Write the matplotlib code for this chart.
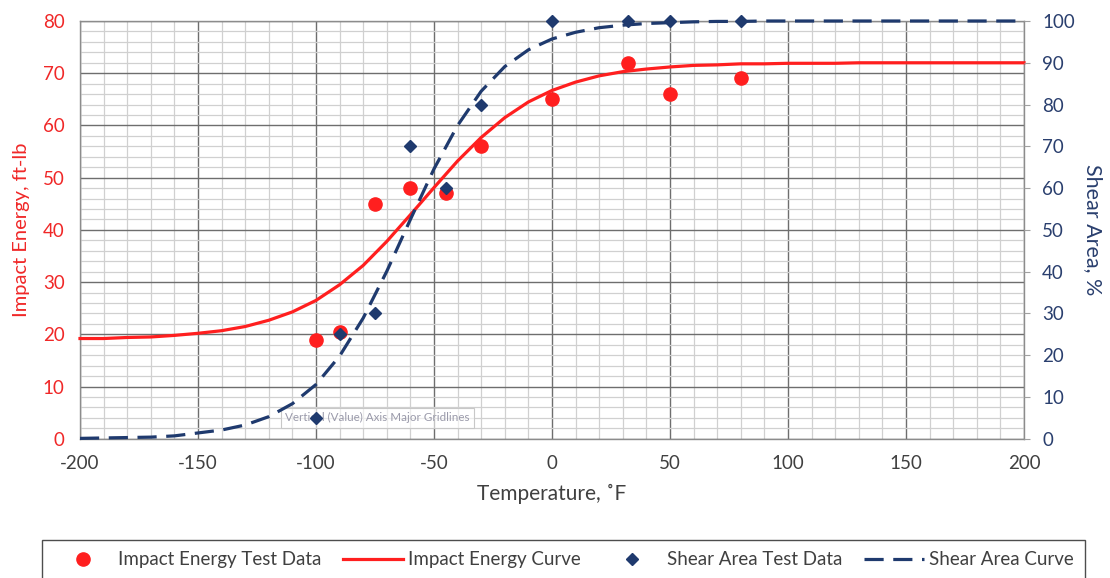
import matplotlib
matplotlib.use("Agg")
import matplotlib.pyplot as plt
from matplotlib.lines import Line2D
from matplotlib.ticker import MultipleLocator

plt.rcParams['font.family'] = ['Lato', 'DejaVu Sans']
plt.rcParams['axes.unicode_minus'] = False

# ---- data ----
test_temps = [-100, -90, -75, -60, -45, -30, 0, 32, 50, 80]
impact_energy = [19, 20.5, 45, 48, 47, 56, 65, 72, 66, 69]
shear_area = [5, 25, 30, 70, 60, 80, 100, 100, 100, 100]

curve_temps = [-200, -190, -180, -170, -160, -150, -140, -130, -120, -110,
               -100, -90, -80, -70, -60, -50, -40, -30, -20, -10,
               0, 10, 20, 30, 40, 50, 60, 70, 80, 90,
               100, 110, 120, 130, 140, 150, 160, 170, 180, 190, 200]
energy_curve = [19.2, 19.2, 19.4, 19.5, 19.8, 20.2, 20.7, 21.5, 22.7, 24.3,
                26.5, 29.5, 33.2, 37.8, 42.9, 48.1, 53.2, 57.7, 61.5, 64.5,
                66.7, 68.3, 69.5, 70.3, 70.8, 71.2, 71.5, 71.6, 71.8, 71.8,
                71.9, 71.9, 71.9, 72.0, 72.0, 72.0, 72.0, 72.0, 72.0, 72.0, 72.0]
shear_curve = [0.1, 0.2, 0.3, 0.4, 0.7, 1.4, 2.1, 3.3, 5.3, 8.4,
               13.0, 19.8, 28.9, 40.1, 52.5, 64.6, 75.0, 83.2, 89.1, 93.1,
               95.7, 97.3, 98.4, 99.0, 99.4, 99.6, 99.8, 99.9, 99.9, 100,
               100, 100, 100, 100, 100, 100, 100, 100, 100, 100, 100]

x_ticks = [-200, -150, -100, -50, 0, 50, 100, 150, 200]
left_ticks = [0, 10, 20, 30, 40, 50, 60, 70, 80]
right_ticks = [0, 10, 20, 30, 40, 50, 60, 70, 80, 90, 100]

RED = '#FF1F1F'
RED_TXT = '#F02828'
NAVY = '#1F3A6E'
NAVY_TXT = '#2A3F6E'
GRAY_TXT = '#404040'

fig = plt.figure(figsize=(11.10, 5.78), dpi=100)
ax = fig.add_axes([80/1110, 1-438.8/578, (1024-80)/1110, (438.8-21)/578])
ax2 = ax.twinx()

ax.set_xlim(-200, 200)
ax.set_ylim(0, 80)
ax2.set_ylim(0, 100)

ax.xaxis.set_major_locator(MultipleLocator(50))
ax.xaxis.set_minor_locator(MultipleLocator(10))
ax.yaxis.set_major_locator(MultipleLocator(10))
ax.yaxis.set_minor_locator(MultipleLocator(2))
ax.set_xticks(x_ticks)
ax.set_yticks(left_ticks)
ax2.set_yticks(right_ticks)

ax.grid(which='minor', color='#D0D0D0', lw=0.9)
ax.grid(which='major', color='#6E6E6E', lw=1.0)
ax.set_axisbelow(True)

for sp in ax.spines.values():
    sp.set_color('#8C8C8C')
    sp.set_linewidth(1.0)
for sp in ax2.spines.values():
    sp.set_visible(False)

ax.tick_params(axis='x', which='both', length=0, pad=12, labelsize=13.5, labelcolor=GRAY_TXT)
ax.tick_params(axis='y', which='both', length=0, pad=11, labelsize=13.5, labelcolor=RED_TXT)
ax2.tick_params(axis='y', which='major', length=4, color='#A0A0A0', pad=9,
                labelsize=13.5, labelcolor=NAVY_TXT)
ax2.tick_params(axis='y', which='minor', length=0)

ax.set_xlabel('Temperature, ˚F', fontsize=15, color=GRAY_TXT, labelpad=8)
ax.set_ylabel('Impact Energy, ft-lb', fontsize=14.5, color=RED_TXT, labelpad=9)
ax2.set_ylabel('Shear Area, %', fontsize=15.5, color=NAVY_TXT, rotation=-90, labelpad=20)

# impact energy series
ax.plot(curve_temps, energy_curve, color=RED, lw=2.3, zorder=3, clip_on=False)
ax.plot(test_temps, impact_energy, linestyle='none', marker='o', ms=9.5,
        color=RED, zorder=4, clip_on=False)

# shear area series
ax2.plot(curve_temps, shear_curve, color=NAVY, lw=2.3, linestyle=(0, (6, 3)),
         zorder=3, clip_on=False)
ax2.plot(test_temps, shear_area, linestyle='none', marker='D', ms=6.5,
         color=NAVY, zorder=4, clip_on=False)

# tooltip artifact
ax.text(-74, 4.0, 'Vertical (Value) Axis Major Gridlines', fontsize=8.4,
        color='#9A9AAA', ha='center', va='center', zorder=10,
        bbox=dict(boxstyle='square,pad=0.35', fc=(1, 1, 1, 0.6),
                  ec='#C8C8C8', lw=0.8))

handles = [
    Line2D([], [], linestyle='none', marker='o', ms=9.5, color=RED),
    Line2D([], [], color=RED, lw=2.3),
    Line2D([], [], linestyle='none', marker='D', ms=6.5, color=NAVY),
    Line2D([], [], color=NAVY, lw=2.3, linestyle=(0, (6, 3))),
]
labels = ['Impact Energy Test Data', 'Impact Energy Curve',
          'Shear Area Test Data', 'Shear Area Curve']
leg = fig.legend(handles, labels, ncol=4, loc='upper left', mode='expand',
                 bbox_to_anchor=(42/1110, -0.2, 1043/1110, 0.2 + 1 - 540/578),
                 bbox_transform=fig.transFigure, fontsize=13.5,
                 frameon=True, fancybox=False, edgecolor='#202020',
                 borderaxespad=0, handlelength=3.2, handletextpad=0.25,
                 borderpad=0.6, labelcolor=GRAY_TXT)
leg.get_frame().set_linewidth(1.0)

fig.savefig('out.png', dpi=100)
